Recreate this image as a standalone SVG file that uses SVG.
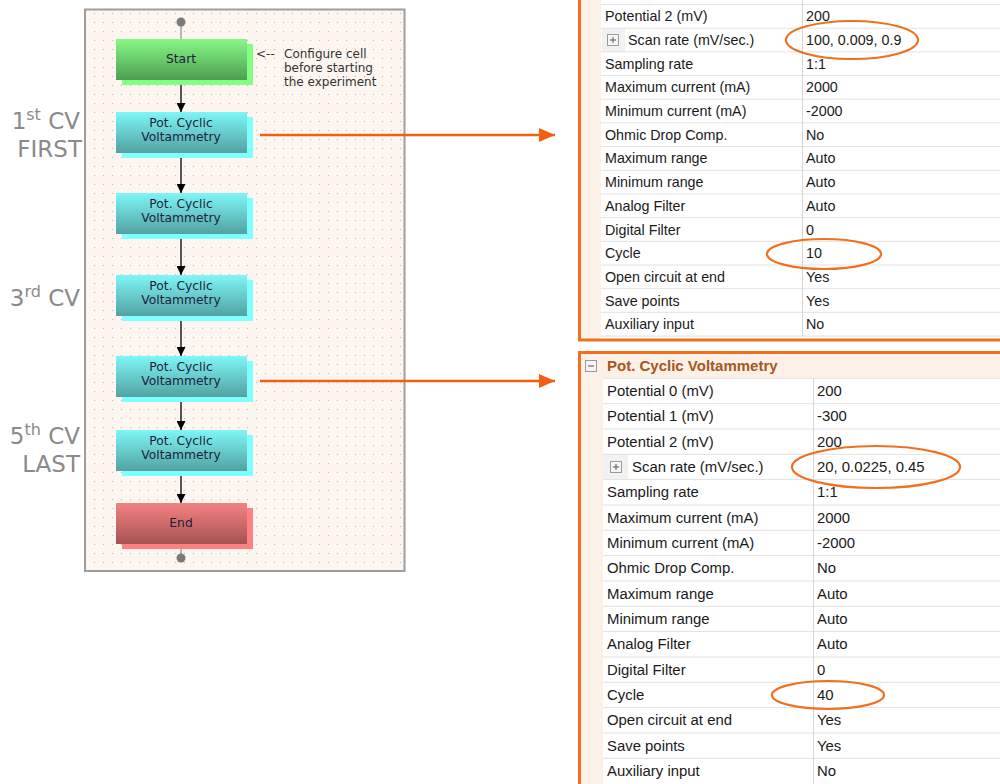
<svg xmlns="http://www.w3.org/2000/svg" width="1000" height="784" viewBox="0 0 1000 784">
<style>
.nt{font-family:"DejaVu Sans",Verdana,sans-serif;font-size:12.3px;fill:#1e1e3c;text-anchor:middle}
.ann{font-family:"DejaVu Sans",Verdana,sans-serif;font-size:12px;fill:#333}
.side{font-family:"DejaVu Sans",Verdana,sans-serif;font-size:23px;fill:#8a8a8a;text-anchor:end}
.t1{font-family:"Liberation Sans",Arial,sans-serif;font-size:14.3px;fill:#1a1a1a}
.t2{font-family:"Liberation Sans",Arial,sans-serif;font-size:14.9px;fill:#1a1a1a}
.hdr{font-family:"Liberation Sans",Arial,sans-serif;font-size:15px;font-weight:bold;fill:#a8561c}
.rl{stroke:#e2e2e2;stroke-width:1}
.cl{stroke:#d6d6d6;stroke-width:1}
.ob{stroke:#f07020;stroke-width:3;fill:none}
.el{fill:none;stroke:#f07020;stroke-width:2.2}
.flow{stroke:#000;stroke-width:1.3;fill:none}
.oarr{stroke:#f06010;stroke-width:2.5;fill:none}
</style>
<defs>
<pattern id="dots" x="0" y="0" width="9" height="9" patternUnits="userSpaceOnUse">
<circle cx="4.5" cy="4.5" r="0.7" fill="#c9c0b6"/>
</pattern>
<linearGradient id="gG" x1="0" y1="0" x2="0" y2="1"><stop offset="0" stop-color="#86f886"/><stop offset="1" stop-color="#4e9e52"/></linearGradient>
<linearGradient id="gC" x1="0" y1="0" x2="0" y2="1"><stop offset="0" stop-color="#7ef6f6"/><stop offset="1" stop-color="#52a2a2"/></linearGradient>
<linearGradient id="gR" x1="0" y1="0" x2="0" y2="1"><stop offset="0" stop-color="#f68282"/><stop offset="1" stop-color="#a45252"/></linearGradient>
<marker id="ah" markerUnits="userSpaceOnUse" markerWidth="9" markerHeight="9" refX="9" refY="4.5" orient="auto"><path d="M0,0 L9,4.5 L0,9 z" fill="#000"/></marker>
<marker id="oh" markerUnits="userSpaceOnUse" markerWidth="16" markerHeight="14" refX="16" refY="7" orient="auto"><path d="M0,0 L16,7 L0,14 z" fill="#f06010"/></marker>
<symbol id="plus" overflow="visible"><rect x="0.5" y="0.5" width="11" height="11" fill="#f4f4f4" stroke="#9a9a9a"/><path d="M3,6 H9 M6,3 V9" stroke="#555" stroke-width="1"/></symbol>
<symbol id="minus" overflow="visible"><rect x="0.5" y="0.5" width="11" height="11" fill="#f4f4f4" stroke="#9a9a9a"/><path d="M3,6 H9" stroke="#555" stroke-width="1"/></symbol>
</defs>
<rect width="1000" height="784" fill="#fff"/>

<!-- Side labels -->
<g id="side-labels">
<text class="side" x="80" y="129">1<tspan font-size="16" dy="-9">st</tspan><tspan dy="9"> CV</tspan></text>
<text class="side" x="82" y="157">FIRST</text>
<text class="side" x="80" y="306">3<tspan font-size="16" dy="-9">rd</tspan><tspan dy="9"> CV</tspan></text>
<text class="side" x="80" y="444">5<tspan font-size="16" dy="-9">th</tspan><tspan dy="9"> CV</tspan></text>
<text class="side" x="80" y="472">LAST</text>
</g>

<!-- Left panel -->
<g id="panel">
<rect x="85" y="9.5" width="319.5" height="561.5" fill="#fdf6f0"/>
<rect x="85" y="9.5" width="319.5" height="561.5" fill="url(#dots)"/>
<rect x="85" y="9.5" width="319.5" height="561.5" fill="none" stroke="#9d9d9d" stroke-width="2"/>
</g>

<!-- Connectors -->
<g id="connectors">
<line x1="181" y1="22" x2="181" y2="39" stroke="#777" stroke-width="1"/>
<line x1="181" y1="544" x2="181" y2="559" stroke="#777" stroke-width="1"/>
<line class="flow" x1="181" y1="81" x2="181" y2="112" marker-end="url(#ah)"/>
<line class="flow" x1="181" y1="154" x2="181" y2="193" marker-end="url(#ah)"/>
<line class="flow" x1="181" y1="235" x2="181" y2="275" marker-end="url(#ah)"/>
<line class="flow" x1="181" y1="317" x2="181" y2="356" marker-end="url(#ah)"/>
<line class="flow" x1="181" y1="398" x2="181" y2="430" marker-end="url(#ah)"/>
<line class="flow" x1="181" y1="472" x2="181" y2="503" marker-end="url(#ah)"/>
<line class="oarr" x1="260" y1="135" x2="555" y2="135" marker-end="url(#oh)"/>
<line class="oarr" x1="260" y1="381" x2="555" y2="381" marker-end="url(#oh)"/>
</g>

<g id="start-dot"><circle cx="181" cy="22" r="4.5" fill="#7a7a7a"/></g>
<g id="end-dot"><circle cx="181" cy="558" r="4.5" fill="#7a7a7a"/></g>

<g id="start">
<rect x="122" y="44" width="131" height="41" fill="#80ff80"/>
<rect x="116" y="39" width="131" height="41" fill="url(#gG)"/>
<text class="nt" x="181" y="63">Start</text>
</g>
<g id="note">
<text class="ann" x="256" y="58">&lt;--</text>
<text class="ann" x="284" y="58">Configure cell</text>
<text class="ann" x="284" y="72">before starting</text>
<text class="ann" x="284" y="86">the experiment</text>
</g>
<g id="pcv1">
<rect x="122" y="117" width="131" height="41" fill="#80ffff"/>
<rect x="116" y="112" width="131" height="41" fill="url(#gC)"/>
<text class="nt" x="181" y="127">Pot. Cyclic</text>
<text class="nt" x="181" y="141">Voltammetry</text>
</g>
<g id="pcv2">
<rect x="122" y="198" width="131" height="41" fill="#80ffff"/>
<rect x="116" y="193" width="131" height="41" fill="url(#gC)"/>
<text class="nt" x="181" y="208">Pot. Cyclic</text>
<text class="nt" x="181" y="222">Voltammetry</text>
</g>
<g id="pcv3">
<rect x="122" y="280" width="131" height="41" fill="#80ffff"/>
<rect x="116" y="275" width="131" height="41" fill="url(#gC)"/>
<text class="nt" x="181" y="290">Pot. Cyclic</text>
<text class="nt" x="181" y="304">Voltammetry</text>
</g>
<g id="pcv4">
<rect x="122" y="361" width="131" height="41" fill="#80ffff"/>
<rect x="116" y="356" width="131" height="41" fill="url(#gC)"/>
<text class="nt" x="181" y="371">Pot. Cyclic</text>
<text class="nt" x="181" y="385">Voltammetry</text>
</g>
<g id="pcv5">
<rect x="122" y="435" width="131" height="41" fill="#80ffff"/>
<rect x="116" y="430" width="131" height="41" fill="url(#gC)"/>
<text class="nt" x="181" y="445">Pot. Cyclic</text>
<text class="nt" x="181" y="459">Voltammetry</text>
</g>
<g id="end">
<rect x="122" y="508" width="131" height="41" fill="#ff8080"/>
<rect x="116" y="503" width="131" height="41" fill="url(#gR)"/>
<text class="nt" x="181" y="527">End</text>
</g>

<!-- Table 1 -->
<g id="table1">
<rect x="580" y="0" width="21" height="340" fill="#fcf1e6"/>
<rect x="602" y="28.2" width="23" height="23.7" fill="#f1f1f1"/>
<g class="rl">
<line x1="601" y1="4.5" x2="1000" y2="4.5"/>
<line x1="601" y1="28.2" x2="1000" y2="28.2"/>
<line x1="601" y1="51.9" x2="1000" y2="51.9"/>
<line x1="601" y1="75.5" x2="1000" y2="75.5"/>
<line x1="601" y1="99.2" x2="1000" y2="99.2"/>
<line x1="601" y1="122.9" x2="1000" y2="122.9"/>
<line x1="601" y1="146.6" x2="1000" y2="146.6"/>
<line x1="601" y1="170.3" x2="1000" y2="170.3"/>
<line x1="601" y1="193.9" x2="1000" y2="193.9"/>
<line x1="601" y1="217.6" x2="1000" y2="217.6"/>
<line x1="601" y1="241.3" x2="1000" y2="241.3"/>
<line x1="601" y1="265" x2="1000" y2="265"/>
<line x1="601" y1="288.7" x2="1000" y2="288.7"/>
<line x1="601" y1="312.3" x2="1000" y2="312.3"/>
<line x1="601" y1="336" x2="1000" y2="336"/>
</g>
<line class="cl" x1="802.5" y1="0" x2="802.5" y2="336"/>
<use href="#plus" x="607" y="34"/>
<g class="t1">
<text x="605" y="21.3">Potential 2 (mV)</text><text x="806" y="21.3">200</text>
<text x="628" y="45">Scan rate (mV/sec.)</text><text x="806" y="45">100, 0.009, 0.9</text>
<text x="605" y="68.7">Sampling rate</text><text x="806" y="68.7">1:1</text>
<text x="605" y="92.4">Maximum current (mA)</text><text x="806" y="92.4">2000</text>
<text x="605" y="116">Minimum current (mA)</text><text x="806" y="116">-2000</text>
<text x="605" y="139.7">Ohmic Drop Comp.</text><text x="806" y="139.7">No</text>
<text x="605" y="163.4">Maximum range</text><text x="806" y="163.4">Auto</text>
<text x="605" y="187">Minimum range</text><text x="806" y="187">Auto</text>
<text x="605" y="210.8">Analog Filter</text><text x="806" y="210.8">Auto</text>
<text x="605" y="234.5">Digital Filter</text><text x="806" y="234.5">0</text>
<text x="605" y="258.2">Cycle</text><text x="806" y="258.2">10</text>
<text x="605" y="281.9">Open circuit at end</text><text x="806" y="281.9">Yes</text>
<text x="605" y="305.5">Save points</text><text x="806" y="305.5">Yes</text>
<text x="605" y="329.2">Auxiliary input</text><text x="806" y="329.2">No</text>
</g>
<path class="ob" d="M579.5,0 V340 H1000"/>
<ellipse class="el" cx="852" cy="40" rx="66" ry="19"/>
<ellipse class="el" cx="824" cy="254" rx="57" ry="15"/>
</g>

<!-- Table 2 -->
<g id="table2">
<rect x="580" y="353" width="420" height="25" fill="#fdf1e7"/>
<rect x="580" y="378" width="23" height="406" fill="#fcf1e6"/>
<rect x="603" y="454" width="25" height="25.3" fill="#f1f1f1"/>
<use href="#minus" x="585" y="360"/>
<text class="hdr" x="607" y="371">Pot. Cyclic Voltammetry</text>
<g class="rl">
<line x1="603" y1="378.3" x2="1000" y2="378.3"/>
<line x1="603" y1="403.7" x2="1000" y2="403.7"/>
<line x1="603" y1="429" x2="1000" y2="429"/>
<line x1="603" y1="454.3" x2="1000" y2="454.3"/>
<line x1="603" y1="479.6" x2="1000" y2="479.6"/>
<line x1="603" y1="505" x2="1000" y2="505"/>
<line x1="603" y1="530.3" x2="1000" y2="530.3"/>
<line x1="603" y1="555.6" x2="1000" y2="555.6"/>
<line x1="603" y1="581" x2="1000" y2="581"/>
<line x1="603" y1="606.3" x2="1000" y2="606.3"/>
<line x1="603" y1="631.6" x2="1000" y2="631.6"/>
<line x1="603" y1="657" x2="1000" y2="657"/>
<line x1="603" y1="682.3" x2="1000" y2="682.3"/>
<line x1="603" y1="707.6" x2="1000" y2="707.6"/>
<line x1="603" y1="733" x2="1000" y2="733"/>
<line x1="603" y1="758.3" x2="1000" y2="758.3"/>
</g>
<line class="cl" x1="813.5" y1="378" x2="813.5" y2="784"/>
<use href="#plus" x="610" y="461"/>
<g class="t2">
<text x="607" y="396">Potential 0 (mV)</text><text x="817" y="396">200</text>
<text x="607" y="421.3">Potential 1 (mV)</text><text x="817" y="421.3">-300</text>
<text x="607" y="446.7">Potential 2 (mV)</text><text x="817" y="446.7">200</text>
<text x="632" y="472">Scan rate (mV/sec.)</text><text x="817" y="472">20, 0.0225, 0.45</text>
<text x="607" y="497.3">Sampling rate</text><text x="817" y="497.3">1:1</text>
<text x="607" y="522.7">Maximum current (mA)</text><text x="817" y="522.7">2000</text>
<text x="607" y="548">Minimum current (mA)</text><text x="817" y="548">-2000</text>
<text x="607" y="573.3">Ohmic Drop Comp.</text><text x="817" y="573.3">No</text>
<text x="607" y="598.6">Maximum range</text><text x="817" y="598.6">Auto</text>
<text x="607" y="624">Minimum range</text><text x="817" y="624">Auto</text>
<text x="607" y="649.3">Analog Filter</text><text x="817" y="649.3">Auto</text>
<text x="607" y="674.6">Digital Filter</text><text x="817" y="674.6">0</text>
<text x="607" y="700">Cycle</text><text x="817" y="700">40</text>
<text x="607" y="725.3">Open circuit at end</text><text x="817" y="725.3">Yes</text>
<text x="607" y="750.6">Save points</text><text x="817" y="750.6">Yes</text>
<text x="607" y="776">Auxiliary input</text><text x="817" y="776">No</text>
</g>
<path class="ob" d="M1000,352.5 H579.5 V784"/>
<ellipse class="el" cx="876" cy="467" rx="84" ry="21"/>
<ellipse class="el" cx="828" cy="695" rx="56" ry="14"/>
</g>
</svg>
